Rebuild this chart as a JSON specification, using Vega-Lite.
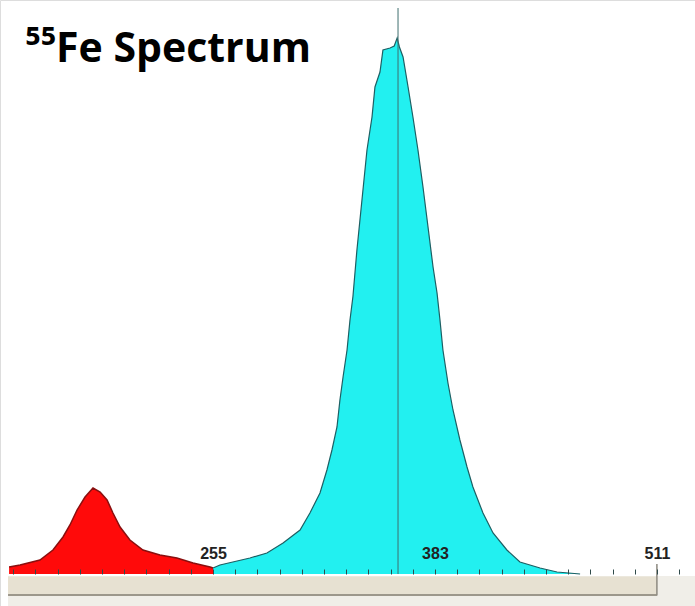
{
  "$schema": "https://vega.github.io/schema/vega-lite/v6.json",
  "width": 695,
  "height": 606,
  "autosize": "none",
  "padding": 0,
  "background": "white",
  "title": {
    "text": "⁵⁵Fe Spectrum",
    "font": "Open Sans",
    "fontWeight": "bold",
    "fontSize": 41,
    "color": "black",
    "anchor": "start",
    "dx": 25,
    "dy": 75
  },
  "data": {"values": [
      {"part": "low", "channel": 137.4, "counts": 14}, {"part": "low", "channel": 143.7, "counts": 18},
      {"part": "low", "channel": 155.2, "counts": 28}, {"part": "low", "channel": 162.7, "counts": 48},
      {"part": "low", "channel": 168.5, "counts": 74}, {"part": "low", "channel": 172.5, "counts": 98},
      {"part": "low", "channel": 176.6, "counts": 128}, {"part": "low", "channel": 181.2, "counts": 154},
      {"part": "low", "channel": 185.8, "counts": 172}, {"part": "low", "channel": 189.9, "counts": 164},
      {"part": "low", "channel": 193.9, "counts": 148}, {"part": "low", "channel": 197.3, "counts": 122},
      {"part": "low", "channel": 201.4, "counts": 94}, {"part": "low", "channel": 207.1, "counts": 68},
      {"part": "low", "channel": 214.6, "counts": 48}, {"part": "low", "channel": 224.4, "counts": 38},
      {"part": "low", "channel": 234.2, "counts": 32}, {"part": "low", "channel": 243.5, "counts": 22},
      {"part": "low", "channel": 253.3, "counts": 14}, {"part": "low", "channel": 255, "counts": 12},
      {"part": "main", "channel": 255, "counts": 12}, {"part": "main", "channel": 259.0, "counts": 18},
      {"part": "main", "channel": 276.3, "counts": 32}, {"part": "main", "channel": 286.1, "counts": 42},
      {"part": "main", "channel": 295.4, "counts": 62}, {"part": "main", "channel": 305.2, "counts": 88},
      {"part": "main", "channel": 310.9, "counts": 122}, {"part": "main", "channel": 316.7, "counts": 162},
      {"part": "main", "channel": 320.7, "counts": 208}, {"part": "main", "channel": 323.6, "counts": 248},
      {"part": "main", "channel": 326.5, "counts": 294}, {"part": "main", "channel": 328.2, "counts": 348},
      {"part": "main", "channel": 330.0, "counts": 394}, {"part": "main", "channel": 332.3, "counts": 448},
      {"part": "main", "channel": 334.0, "counts": 508}, {"part": "main", "channel": 335.7, "counts": 555},
      {"part": "main", "channel": 338.0, "counts": 648}, {"part": "main", "channel": 340.9, "counts": 748},
      {"part": "main", "channel": 343.8, "counts": 848}, {"part": "main", "channel": 346.7, "counts": 914},
      {"part": "main", "channel": 348.4, "counts": 974}, {"part": "main", "channel": 351.3, "counts": 1004},
      {"part": "main", "channel": 353.0, "counts": 1048}, {"part": "main", "channel": 357.1, "counts": 1052},
      {"part": "main", "channel": 359.5, "counts": 1056}, {"part": "main", "channel": 361.2, "counts": 1072},
      {"part": "main", "channel": 362.5, "counts": 1054}, {"part": "main", "channel": 364.6, "counts": 1034},
      {"part": "main", "channel": 367.5, "counts": 974}, {"part": "main", "channel": 370.3, "counts": 914},
      {"part": "main", "channel": 373.2, "counts": 848}, {"part": "main", "channel": 376.1, "counts": 774},
      {"part": "main", "channel": 379.0, "counts": 694}, {"part": "main", "channel": 381.9, "counts": 614},
      {"part": "main", "channel": 384.2, "counts": 562}, {"part": "main", "channel": 385.9, "counts": 508},
      {"part": "main", "channel": 387.6, "counts": 448}, {"part": "main", "channel": 390.5, "counts": 382},
      {"part": "main", "channel": 393.4, "counts": 328}, {"part": "main", "channel": 397.4, "counts": 268},
      {"part": "main", "channel": 401.5, "counts": 214}, {"part": "main", "channel": 404.9, "counts": 174},
      {"part": "main", "channel": 410.7, "counts": 122}, {"part": "main", "channel": 416.5, "counts": 82},
      {"part": "main", "channel": 424.5, "counts": 48}, {"part": "main", "channel": 432.0, "counts": 24},
      {"part": "main", "channel": 443.6, "counts": 12}, {"part": "main", "channel": 453.4, "counts": 4},
      {"part": "main", "channel": 466.7, "counts": 0}
  ]},
  "encoding": {
    "x": {"field": "channel", "type": "quantitative", "scale": {"domain": [132.16, 532.97]},
      "axis": {
        "offset": -32,
        "zindex": 1,
        "domain": false,
        "grid": false,
        "title": null,
        "values": [128, 139.8, 152.6, 165.4, 178.2, 191, 203.8, 216.6, 229.4, 242.2, 255, 267.8, 280.6, 293.4, 306.2, 319, 331.8, 344.6, 357.4, 370.2, 383, 395.8, 408.6, 421.4, 434.2, 447, 459.8, 472.6, 485.4, 498.2, 511, 523.8],
        "labelExpr": "(datum.value == 128 || datum.value == 255 || datum.value == 383 || datum.value == 511) ? datum.label : ''",
        "tickSize": -5,
        "tickColor": "#2f4a4a",
        "labelPadding": -8,
        "labelBaseline": "bottom",
        "labelFont": "Liberation Sans",
        "labelFontWeight": "bold",
        "labelFontSize": 16,
        "labelColor": "#222222",
        "labelOverlap": false,
        "labelFlush": false,
        "labelBound": false
      }
    },
    "y": {"field": "counts", "type": "quantitative", "scale": {"domain": [-64, 1148]}, "axis": null}
  },
  "layer": [
    {
      "transform": [{"filter": "datum.part == 'main' && datum.channel == 255"}],
      "mark": {"type": "rect", "color": "#f0eee8"},
      "encoding": {
        "x": {"datum": 136.8, "type": "quantitative"},
        "x2": {"datum": 532.97},
        "y": {"datum": -4, "type": "quantitative"},
        "y2": {"datum": -64}
      }
    },
    {
      "transform": [{"filter": "datum.part == 'main' && datum.channel == 255"}],
      "mark": {"type": "rect", "color": "#e7e1d2"},
      "encoding": {
        "x": {"datum": 136.8, "type": "quantitative"},
        "x2": {"datum": 511},
        "y": {"datum": -5, "type": "quantitative"},
        "y2": {"datum": -40}
      }
    },
    {
      "transform": [{"filter": "datum.part == 'main' && datum.channel == 255"}],
      "mark": {"type": "rule", "color": "#9c978b", "strokeWidth": 2},
      "encoding": {
        "x": {"datum": 136.8, "type": "quantitative"},
        "x2": {"datum": 511},
        "y": {"datum": -42, "type": "quantitative"}
      }
    },
    {
      "transform": [{"filter": "datum.part == 'main' && datum.channel == 255"}],
      "mark": {"type": "rule", "color": "#8d8980", "strokeWidth": 1.5},
      "encoding": {
        "x": {"datum": 511, "type": "quantitative"},
        "y": {"datum": 20, "type": "quantitative"},
        "y2": {"datum": -43}
      }
    },
    {
      "transform": [{"filter": "datum.part == 'low'"}],
      "mark": {"type": "area", "color": "#ff0a0a"}
    },
    {
      "transform": [{"filter": "datum.part == 'low'"}],
      "mark": {"type": "line", "color": "#8a0f0f", "strokeWidth": 1.5}
    },
    {
      "transform": [{"filter": "datum.part == 'main'"}],
      "mark": {"type": "area", "color": "#22f0f0"}
    },
    {
      "transform": [{"filter": "datum.part == 'main'"}],
      "mark": {"type": "line", "color": "#1d5f63", "strokeWidth": 1.2}
    },
    {
      "transform": [{"filter": "datum.part == 'main' && datum.channel == 255"}],
      "mark": {"type": "rule", "color": "#3f6f6f", "strokeWidth": 1},
      "encoding": {
        "x": {"datum": 361.7, "type": "quantitative"},
        "y": {"datum": 1132, "type": "quantitative"},
        "y2": {"datum": 0}
      }
    }
  ]
}
